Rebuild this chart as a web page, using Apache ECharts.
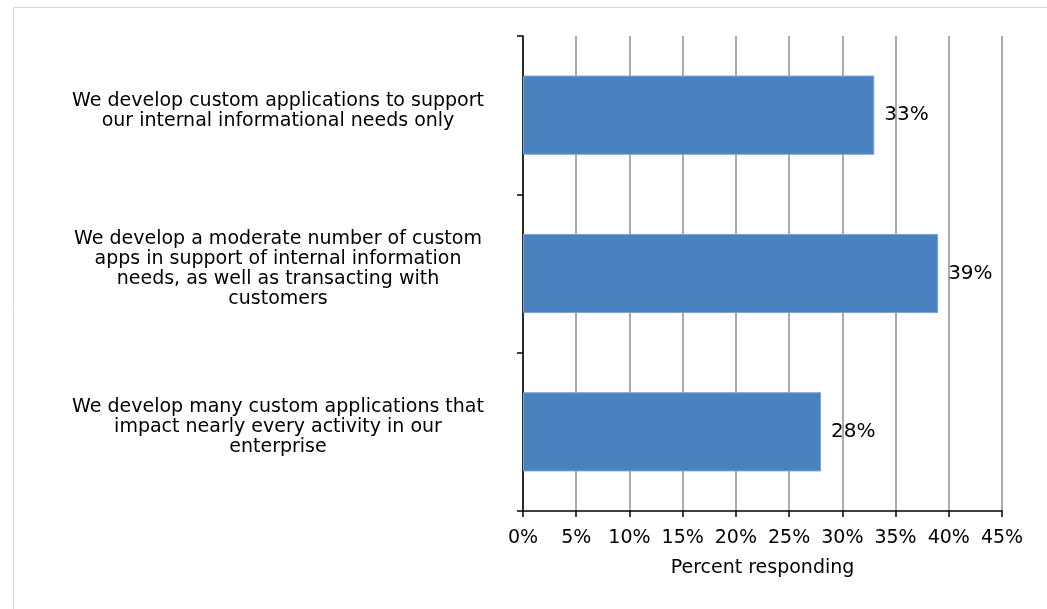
<!DOCTYPE html>
<html>
<head>
<meta charset="utf-8">
<script src="https://cdn.jsdelivr.net/npm/echarts@6/dist/echarts.min.js"></script>
<style>
  html, body { margin: 0; padding: 0; background: #fff; }
  #chart { width: 1047px; height: 609px; }
</style>
</head>
<body>
<div id="chart"></div>
<script>
// Survey answers, listed top to bottom
const categories = [
  'We develop custom applications to support\nour internal informational needs only',
  'We develop a moderate number of custom\napps in support of internal information\nneeds, as well as transacting with\ncustomers',
  'We develop many custom applications that\nimpact nearly every activity in our\nenterprise'
];
// Share of respondents, in percent
const values = [33, 39, 28];
// Horizontal axis range and step, in percent
const axisMin = 0;
const axisMax = 45;
const axisStep = 5;

const font = 'DejaVu Sans';
const chart = echarts.init(document.getElementById('chart'), null, { renderer: 'canvas' });

chart.setOption({
  backgroundColor: '#ffffff',
  animation: false,
  graphic: [{
    type: 'rect',
    shape: { x: 13.5, y: 7.5, width: 1200, height: 800 },
    style: { fill: 'none', stroke: '#d9d9d9', lineWidth: 1 },
    silent: true
  }],
  grid: { left: 523, right: 45, top: 36, bottom: 98, containLabel: false },
  xAxis: {
    type: 'value',
    min: axisMin,
    max: axisMax,
    interval: axisStep,
    name: 'Percent responding',
    nameLocation: 'middle',
    nameGap: 48,
    nameTextStyle: { fontFamily: font, fontSize: 19, color: '#000' },
    axisLine: { show: true, lineStyle: { color: '#000', width: 1.5 } },
    axisTick: { show: true, length: 6, lineStyle: { color: '#000', width: 1.5 } },
    axisLabel: {
      formatter: '{value}%',
      fontFamily: font, fontSize: 19, color: '#000', margin: 18
    },
    splitLine: { show: true, lineStyle: { color: '#8f8f8f', width: 1.5 } }
  },
  yAxis: {
    type: 'category',
    data: categories,
    inverse: true,
    axisLine: { show: true, lineStyle: { color: '#000', width: 1.5 } },
    axisTick: { show: true, length: 6, lineStyle: { color: '#000', width: 1.5 } },
    axisLabel: {
      margin: 245, align: 'center',
      // each line as its own rich token, plus a short spacer line underneath
      // so the text block sits a little above the band centre
      formatter: function (v) {
        return v.split('\n').map(function (l) { return '{t|' + l + '}'; }).join('\n') + '\n{s|}';
      },
      rich: {
        t: { fontFamily: font, fontSize: 19, color: '#000', lineHeight: 20, align: 'center' },
        s: { fontSize: 1, lineHeight: 9 }
      }
    },
    splitLine: { show: false }
  },
  series: [{
    type: 'bar',
    data: values,
    barWidth: '50%',
    itemStyle: { color: '#4a81bf', borderColor: '#7aa3d6', borderWidth: 1 },
    label: {
      show: true,
      position: 'right',
      distance: 10,
      formatter: '{c}%',
      fontFamily: font, fontSize: 20, color: '#000'
    }
  }]
});
</script>
</body>
</html>
